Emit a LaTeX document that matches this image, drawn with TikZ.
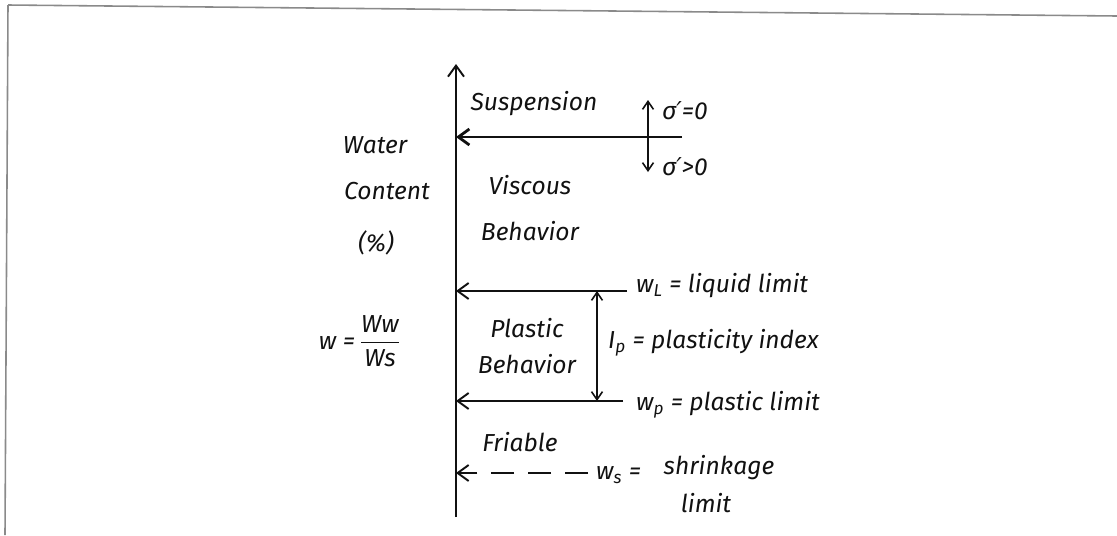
\documentclass[tikz,border=0pt]{standalone}
\usepackage{amsmath}
\usepackage{fontspec}
\setmainfont{Fira Sans}
\newfontfamily\primefont{DejaVu Sans}
\usepackage{tikz}
\usetikzlibrary{positioning,arrows.meta,calc}
\definecolor{ink1}{HTML}{111111}
\definecolor{frmgray}{HTML}{8A8A8A}
\newcommand{\wsub}[2]{#1\textsubscript{#2}}
\newcommand{\sgp}{σ{\primefont ′}}

\begin{document}
\begin{tikzpicture}[
  x=0.02cm, y=-0.02cm,
  font=\fontsize{14}{16}\selectfont\itshape,
  >={Straight Barb[length=2.2mm,width=3.2mm]},
  frm/.style={draw=frmgray, line width=0.9pt},
  axis/.style={->, draw=ink1, line width=1.1pt},
  lim/.style={->, draw=ink1, line width=1.1pt},
  stress/.style={->, draw=ink1, line width=0.9pt, >={Straight Barb[length=1.6mm,width=2.2mm]}},
  lbl/.style={text=ink1, inner sep=1pt},
  zone/.style={text=ink1, inner sep=1pt, align=center}
]
\useasboundingbox (0,0) rectangle (1117,535);
\def\ax{456}

% ===== frame =====
\draw[frm] (8,5) -- (1117,16);
\draw[frm] (8,5) -- (5,535);

% ===== axis =====
\coordinate (axB) at (\ax,517);
\coordinate (axT) at (\ax,64);
\draw[axis] (axB) -- (axT);
\node[lbl] (water) at (375,145) {Water};
\node[lbl] (content) at (387,191) {Content};
\node[lbl] (pct) at (376,243) {(\%)};
\node[lbl] (wdef) at (360,341) {w =\,$\dfrac{\text{\itshape Ww}}{\text{\itshape Ws}}$};

% ===== limits =====
\coordinate (susR) at (682,137);
\coordinate (llR) at (627,291);
\coordinate (plR) at (623,401);
\coordinate (slR) at (588,473);
\draw[lim, line width=1.6pt] (susR) -- (susR -| axB);
\draw[lim] (llR) -- (llR -| axB);
\draw[lim] (plR) -- (plR -| axB);
\draw[lim, dash pattern=on 13pt off 8pt] (slR) -- (slR -| axB);

% ===== stress arrows =====
\coordinate (sgO) at (648,137);
\coordinate (sgU) at (648,100);
\coordinate (sgD) at (648,172);
\draw[stress] (sgO) -- (sgU);
\draw[stress] (sgO) -- (sgD);
\node[lbl, anchor=west] (sg0) at (660,111) {\sgp=0};
\node[lbl, anchor=west] (sg1) at (660,167) {\sgp>0};

% ===== plasticity index =====
\coordinate (ipT) at (597,291);
\coordinate (ipB) at (597,401);
\draw[stress, <->] (ipT) -- (ipB);

% ===== zones =====
\node[zone] (susp) at (534,104) {Suspension};
\node[zone] (visc) at (530,208) {Viscous\\[10pt]Behavior};
\node[zone] (plast) at (527,346) {Plastic\\[4pt]Behavior};
\node[zone] (fria) at (520,442) {Friable};

% ===== limit labels =====
\node[lbl, anchor=west] (ll) at (634,286) {\wsub{w}{L} = liquid limit};
\node[lbl, anchor=west] (ip) at (606,343) {\wsub{I}{p} = plasticity index};
\node[lbl, anchor=west] (pl) at (634,405) {\wsub{w}{p} = plastic limit};
\node[lbl, anchor=west] (sl) at (594,475) {\wsub{w}{s} =};
\node[lbl] (slt) at (719,468) {shrinkage};
\node[lbl] (sll) at (706,503) {limit};
\end{tikzpicture}
\end{document}
